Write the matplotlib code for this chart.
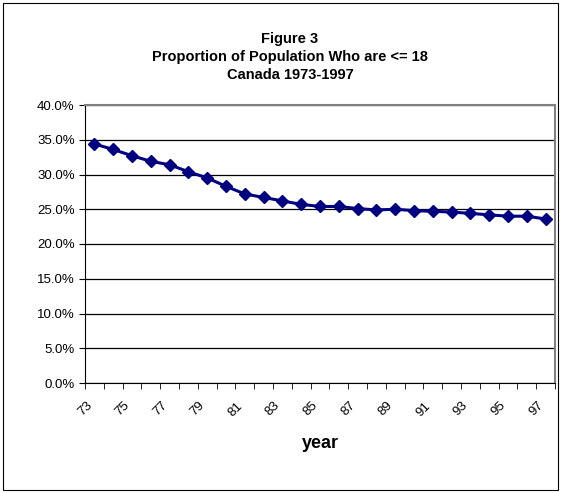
import numpy as np
import matplotlib.pyplot as plt
from matplotlib.patches import Rectangle

years = list(range(73, 98))
share = [34.4, 33.6, 32.7, 31.9, 31.4, 30.4, 29.5, 28.3, 27.2, 26.7, 26.2, 25.7,
         25.4, 25.4, 25.1, 24.9, 25.0, 24.8, 24.7, 24.6, 24.4, 24.2, 24.0, 24.0, 23.6]

W, H = 563, 493
fig = plt.figure(figsize=(W / 100, H / 100), dpi=100)
fig.patches.append(Rectangle((3 / W, 3 / H), 555 / W, 487 / H, transform=fig.transFigure,
                             fill=False, edgecolor="black", linewidth=0.8))

ax = fig.add_axes([85 / W, 1 - 383 / H, 470 / W, 278 / H])
x = np.arange(len(years))
ax.plot(x, share, color="#000080", linewidth=2.2, marker="D", markersize=6)
ax.set_xlim(-0.5, len(years) - 0.5)
ax.set_ylim(0, 40)
ax.set_yticks(np.arange(0, 41, 5))
ax.set_yticklabels([f"{v:.1f}%" for v in np.arange(0, 41, 5)], fontsize=9.5,
                   family="Liberation Sans")
ax.yaxis.grid(True, color="black", linewidth=0.9)
ax.set_axisbelow(True)
ax.set_xticks(x[::2] - 0.45)
ax.set_xticklabels([str(y) for y in years[::2]], rotation=45, ha="right",
                   rotation_mode="anchor", fontsize=9.5, family="Liberation Sans")
ax.set_xticks(np.arange(len(years) + 1) - 0.5, minor=True)
ax.tick_params(axis="x", which="major", length=0, pad=12)
ax.tick_params(axis="x", which="minor", length=4)
ax.tick_params(axis="y", length=4)
for s in ["top", "right"]:
    ax.spines[s].set_color("#808080")
    ax.spines[s].set_linewidth(1.5)
ax.set_xlabel("year", fontsize=13, fontweight="bold", family="Liberation Sans", labelpad=12)

fig.text(290 / W, 1 - 57 / H, "Figure 3\nProportion of Population Who are <= 18\nCanada 1973-1997",
         ha="center", va="center", fontsize=10.5, fontweight="bold", family="Liberation Sans",
         linespacing=1.35)

fig.savefig("out.png", dpi=100)
